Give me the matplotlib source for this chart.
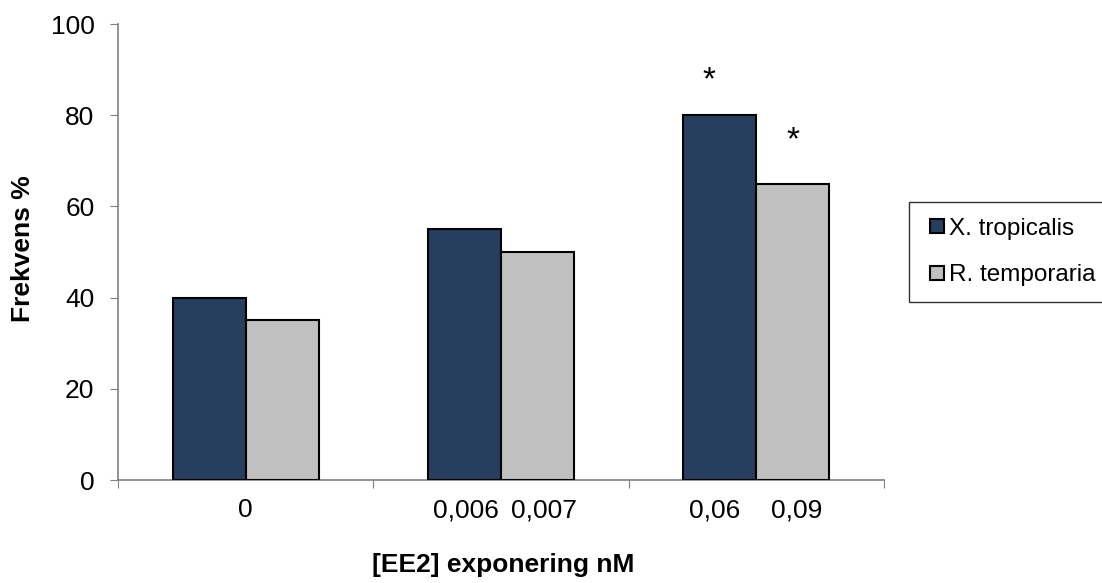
import numpy as np
import matplotlib.pyplot as plt
from matplotlib.lines import Line2D

plt.rcParams['font.family'] = ['Liberation Sans', 'DejaVu Sans']

# data
groups = ['0', '0,006 / 0,007', '0,06 / 0,09']
series_names = ['X. tropicalis', 'R. temporaria']
xtrop = [40, 55, 80]
rtemp = [35, 50, 65]
tick_labels = ['0', '0,006', '0,007', '0,06', '0,09']
tick_group = [0, 1, 1, 2, 2]
star_group = [2, 2]
star_height = [87.5, 74.5]

# layout
tick_offset = [0.0, -0.139, 0.170, -0.164, 0.157]
star_offset = [-0.185, 0.143]

blue = '#263F5F'
grey = '#C0C0C0'
w = 0.286
fs = 19

fig = plt.figure(figsize=(11.02, 5.83), dpi=100)
ax = fig.add_axes([118/1102, 1-480/583, (884-118)/1102, (480-24)/583])

x = np.arange(len(groups)) + 0.5
ax.bar(x - w/2, xtrop, w, color=blue, edgecolor='black', linewidth=1.5, zorder=3)
ax.bar(x + w/2, rtemp, w, color=grey, edgecolor='black', linewidth=1.5, zorder=3)

# significance stars
for g, h, off in zip(star_group, star_height, star_offset):
    ax.text(x[g] + off, h, '*', ha='center', va='center', fontsize=24)

ax.set_xlim(0, 3)
ax.set_ylim(0, 100)
ax.set_yticks([0, 20, 40, 60, 80, 100])
ax.set_xticks([0, 1, 2, 3])
ax.set_xticklabels([])
ax.set_xticks([x[g] + o for g, o in zip(tick_group, tick_offset)], tick_labels, minor=True)
ax.tick_params(axis='x', which='minor', length=0, pad=13, labelsize=fs)
ax.tick_params(axis='x', which='major', length=6, direction='out', color='#808080')
ax.tick_params(axis='y', length=6, direction='out', color='#808080', labelsize=fs, pad=11)

for sp in ['top', 'right']:
    ax.spines[sp].set_visible(False)
for sp in ['left', 'bottom']:
    ax.spines[sp].set_color('#808080')
    ax.spines[sp].set_linewidth(1.2)

fig.text(23/1102, 1-249/583, 'Frekvens %', rotation=90, ha='center', va='center',
         fontsize=fs, fontweight='bold')
fig.text(503/1102, 1-565/583, '[EE2] exponering nM', ha='center', va='center',
         fontsize=fs, fontweight='bold')

handles = [Line2D([], [], marker='s', linestyle='', markersize=10, markerfacecolor=blue,
                  markeredgecolor='black', markeredgewidth=1.5),
           Line2D([], [], marker='s', linestyle='', markersize=10, markerfacecolor=grey,
                  markeredgecolor='black', markeredgewidth=1.5)]
leg = fig.legend(handles, series_names, loc='upper left',
                 bbox_to_anchor=(909/1102, 1-202/583), fontsize=17.5, frameon=True,
                 fancybox=False, edgecolor='black', handlelength=1.0, handletextpad=0.0,
                 labelspacing=1.0, borderpad=0.65, borderaxespad=0)
leg.get_frame().set_linewidth(1.0)

fig.savefig('out.png', dpi=100)
